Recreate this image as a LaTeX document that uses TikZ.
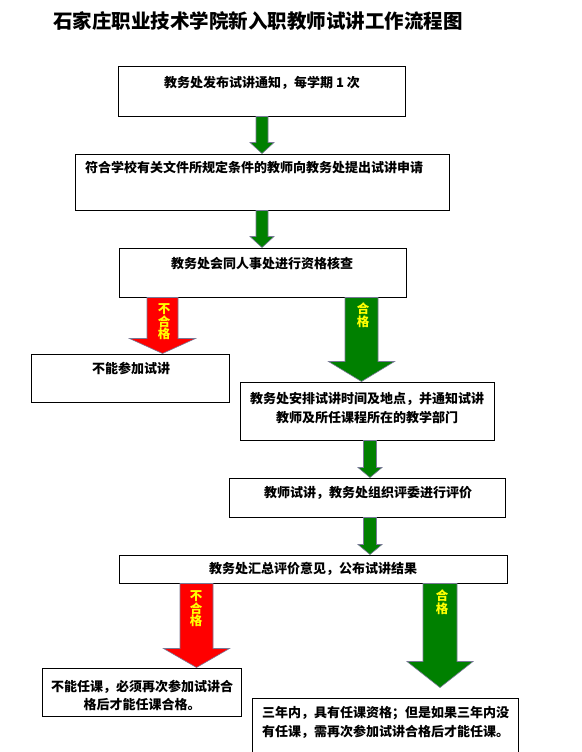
\documentclass[tikz,border=0pt]{standalone}
\usepackage{fontspec}
\newfontfamily\cjk{Noto Sans CJK SC}
\usetikzlibrary{calc}
\definecolor{arrgreen}{RGB}{0,128,0}
\definecolor{arrred}{RGB}{255,0,0}
\definecolor{arredge}{RGB}{120,120,150}
\definecolor{lblyellow}{RGB}{255,255,0}
\tikzset{
  box/.style={draw=black, line width=1pt, fill=white, inner sep=0pt},
  txt/.style={font=\cjk\bfseries\fontsize{13}{19}\selectfont, inner sep=0pt, align=center},
  ttl/.style={font=\cjk\bfseries\fontsize{19.5}{22}\selectfont, inner sep=0pt},
  lbl/.style={font=\cjk\bfseries\fontsize{12.5}{12.5}\selectfont, text=lblyellow, inner sep=0pt, align=center},
}
\newcommand\mkbox[5]{\node[box, minimum width={(#4-#2)*1pt}, minimum height={(#5-#3)*1pt}] (#1) at ({(#2+#4)/2},{(#3+#5)/2}) {};}
% #1 x, #2 start coord, #3 tip coord, #4 shaft width, #5 head width, #6 head length, #7 fill colour
\newcommand\blockarrow[7]{%
  \path let \p1=(#2), \p2=(#3) in [fill=#7, draw=arredge, line width=0.6pt, line join=miter]
    ({(#1-#4/2)*1pt},\y1) -- ({(#1+#4/2)*1pt},\y1) -- ({(#1+#4/2)*1pt},{\y2+#6pt})
    -- ({(#1+#5/2)*1pt},{\y2+#6pt}) -- ({#1*1pt},\y2) -- ({(#1-#5/2)*1pt},{\y2+#6pt})
    -- ({(#1-#4/2)*1pt},{\y2+#6pt}) -- cycle;}
\begin{document}
\begin{tikzpicture}[x=1pt,y=-1pt]
\clip (0,0) rectangle (581,752);
\fill[white] (0,0) rectangle (581,752);

\node[ttl] (title) at (258,21) {石家庄职业技术学院新入职教师试讲工作流程图};

\mkbox{b1}{118}{67}{405}{116}
\mkbox{b2}{75}{154}{449}{210}
\mkbox{b3}{119}{248}{406}{297}
\mkbox{b4}{31}{354}{229}{402}
\mkbox{b5}{240}{382}{494}{440}
\mkbox{b6}{229}{478}{505}{517}
\mkbox{b7}{119}{555}{507}{583}
\mkbox{b8}{42}{668}{241}{716}
\mkbox{b9}{252}{698}{518}{770}

\node[txt] (t1) at (262,83) {教务处发布试讲通知，每学期 1 次};
\node[txt, anchor=west] (t2) at (85,168) {符合学校有关文件所规定条件的教师向教务处提出试讲申请};
\node[txt] (t3) at (262,264) {教务处会同人事处进行资格核查};
\node[txt] (t4) at (131,368) {不能参加试讲};
\node[txt] (t5) at (367,408) {教务处安排试讲时间及地点，并通知试讲\\教师及所任课程所在的教学部门};
\node[txt] (t6) at (368,493) {教师试讲，教务处组织评委进行评价};
\node[txt] (t7) at (313,569) {教务处汇总评价意见，公布试讲结果};
\node[txt, font=\cjk\bfseries\fontsize{13}{18}\selectfont] (t8) at (142,695) {不能任课，必须再次参加试讲合\\格后才能任课合格。};
\node[txt, align=left, anchor=west] (t9) at (262,722.5) {三年内，具有任课资格；但是如果三年内没\\有任课，需再次参加试讲合格后才能任课。};

\blockarrow{262}{b1.south}{b2.north}{12}{24}{11}{arrgreen}
\blockarrow{262}{b2.south}{b3.north}{12}{24}{11}{arrgreen}
\blockarrow{162.5}{b3.south}{b4.north}{31}{66}{15}{arrred}
\blockarrow{361.5}{b3.south}{b5.north}{33}{66}{20}{arrgreen}
\blockarrow{370}{b5.south}{b6.north}{13}{24}{10}{arrgreen}
\blockarrow{370}{b6.south}{b7.north}{13}{24}{10}{arrgreen}
\blockarrow{196.5}{b7.south}{b8.north}{33}{66}{19}{arrred}
\blockarrow{440}{b7.south}{[yshift=10pt]b9.north}{34}{66}{26}{arrgreen}

\node[lbl] (l1) at (164,322) {不\\合\\格};
\node[lbl] (l2) at (363,315) {合\\格};
\node[lbl] (l3) at (196,609) {不\\合\\格};
\node[lbl] (l4) at (442,602) {合\\格};
\end{tikzpicture}
\end{document}
